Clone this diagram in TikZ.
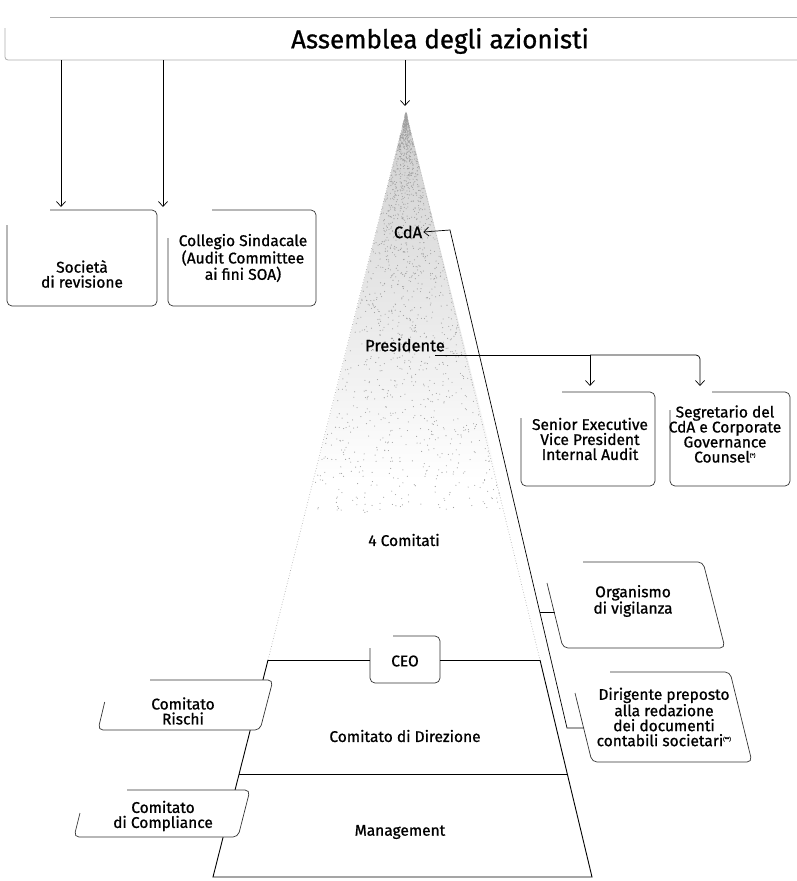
\documentclass[tikz,border=0pt]{standalone}
\usepackage{fontspec}
\setmainfont{Fira Sans}[FakeBold=0.9]
\usetikzlibrary{arrows.meta}
\begin{document}
\begin{tikzpicture}[x=1pt,y=-1pt,
  lbl/.style={font=\fontsize{15.5}{15}\selectfont, align=center, inner sep=1pt},
  bx/.style={draw=black!80, line width=0.7pt, rounded corners=5pt},
  arr/.style={-{Straight Barb[length=5pt,width=9pt]}, line width=0.7pt},
  ln/.style={line width=0.9pt},
  faint/.style={draw=gray!65, line width=0.8pt},
]
\useasboundingbox (0,0) rectangle (797,881);

% ---- pyramid top (stippled region)
\shade[top color=gray!38, middle color=gray!16, bottom color=white] (406,112) -- (314,480) -- (498,480) -- cycle;
\pgfmathsetseed{11}
\foreach \i in {1,...,1600}{
  \pgfmathsetmacro\yy{114+400*(rnd^1.6)}
  \pgfmathsetmacro\xx{406+(2*rnd-1)*0.245*(\yy-112)}
  \fill[gray!75] (\xx,\yy) circle (0.55pt);
}
\coordinate (apex) at (406,112);
\coordinate (pl) at (268,660);
\coordinate (pr) at (540,660);
\coordinate (bl) at (213,877);
\coordinate (br) at (592,877);
\coordinate (ml) at (239,774);
\coordinate (mr) at (567,774);
\draw[gray!60, dotted, line width=0.7pt] (apex) -- (pl);
\draw[gray!60, dotted, line width=0.7pt] (apex) -- (pr);
\draw[ln] (pl) -- (bl) -- (br) -- (pr);
\draw[ln] (ml) -- (mr);

% ---- Assemblea
\node[font=\fontsize{26}{28}\selectfont, inner sep=0] (asm) at (440,41) {Assemblea degli azionisti};
\draw[faint] (50,17) -- (797,17);
\draw[faint, rounded corners=3pt] (5,28) -- (5,60) -- (797,60);
\coordinate (a1) at (61,60);
\coordinate (a2) at (163,60);
\coordinate (a3) at (405,60);
\coordinate (socT) at (61,207);
\coordinate (colT) at (163,207);
\coordinate (apT) at (405,106);
\draw[arr] (a1) -- (socT);
\draw[arr] (a2) -- (colT);
\draw[arr] (a3) -- (apT);

% ---- Società / Collegio
\draw[bx] (50,210) -- (157,210) -- (157,306) -- (7,306) -- (7,225);
\node[lbl] (soc) at (82,274) {Società\\di revisione};
\draw[bx] (212,210) -- (316,210) -- (316,306) -- (168,306) -- (168,238);
\node[lbl] (col) at (243,258) {Collegio Sindacale\\(Audit Committee\\ai fini SOA)};

% ---- CdA / Presidente
\node[lbl, font=\fontsize{16.5}{17}\selectfont] (cda) at (408,232) {CdA};
\node[lbl, font=\fontsize{16.5}{17}\selectfont] (pres) at (405,345) {Presidente};

% ---- Presidente connectors
\coordinate (pres0) at (435,355);
\coordinate (presM) at (590,355);
\coordinate (senT) at (590,386);
\coordinate (segT) at (700,386);
\draw[arr] (pres0) -- (presM) -- (senT);
\draw[arr, rounded corners=4pt] (presM) -- (700,355) -- (segT);

\draw[bx] (562,392) -- (655,392) -- (655,486) -- (521,486) -- (521,418);
\node[lbl] (sen) at (590,439) {Senior Executive\\Vice President\\Internal Audit};
\draw[bx] (712,392) -- (790,392) -- (790,486) -- (670,486) -- (670,410);
\node[lbl] (seg) at (725,434) {Segretario del\\CdA e Corporate\\Governance\\Counsel\textsuperscript{\tiny(*)}};

% ---- 4 Comitati
\node[lbl] (com4) at (404,540) {4 Comitati};

% ---- right connector CdA - Organismo - Dirigente
\coordinate (k1) at (450,230);
\coordinate (k2) at (567,728);
\coordinate (orgJ) at (539.7,612);
\coordinate (orgL) at (554.5,612);
\coordinate (dirL) at (584,728);
\draw[arr] (dirL) -- (k2) -- (k1) -- (cda.east);
\draw[ln] (orgJ) -- (orgL);

\draw[bx] (583,562) -- (703,562) -- (725,648) -- (563,648) -- (547,583);
\node[lbl] (org) at (633,601) {Organismo\\di vigilanza};
\draw[bx] (610,672) -- (730,672) -- (752,762) -- (592,762) -- (575,693);
\node[lbl] (dir) at (664,717) {Dirigente preposto\\alla redazione\\dei documenti\\contabili societari\textsuperscript{\tiny(**)}};

% ---- CEO
\draw[bx] (393,636) -- (440,636) -- (440,683) -- (370,683) -- (370,648);
\node[lbl] (ceo) at (405,661) {CEO};
\coordinate (ceoL) at (370,660);
\coordinate (ceoR) at (440,660);
\draw[ln] (pl) -- (ceoL);
\draw[ln] (ceoR) -- (pr);

% ---- Rischi / Compliance
\fill[white] (110,680) -- (273,680) -- (260,730) -- (98,730) -- cycle;
\draw[bx] (150,680) -- (273,680) -- (260,730) -- (98,730) -- (104.7,702);
\node[lbl] (ris) at (183,711) {Comitato\\Rischi};
\fill[white] (86,790) -- (250,790) -- (238,837) -- (74,837) -- cycle;
\draw[bx] (127,790) -- (250,790) -- (238,837) -- (74,837) -- (80,813);
\node[lbl] (cmp) at (163,816) {Comitato\\di Compliance};

% ---- lower labels
\node[lbl] (dirz) at (405,736) {Comitato di Direzione};
\node[lbl] (mgmt) at (400,832) {Management};
\end{tikzpicture}
\end{document}
